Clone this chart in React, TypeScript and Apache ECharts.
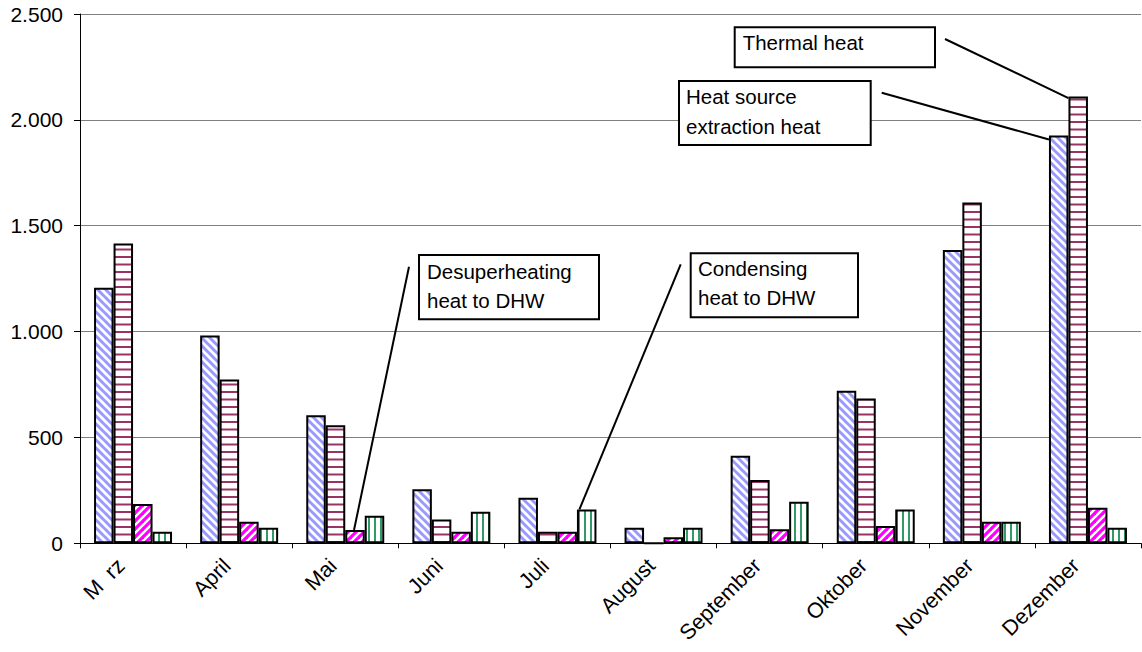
import React, { useEffect, useRef } from "react";
import * as echarts from "echarts";

const months = ["M  rz", "April", "Mai", "Juni", "Juli", "August", "September", "Oktober", "November", "Dezember"];
const heatSource = [1207, 982, 605, 255, 215, 74, 413, 720, 1385, 1926];
const thermal = [1416, 774, 558, 112, 55, 0, 299, 684, 1610, 2110];
const desuper = [186, 102, 63, 55, 55, 28, 66, 82, 102, 168];
const condensing = [55, 74, 130, 149, 160, 74, 196, 160, 102, 74];
const yTicks = [0, 500, 1000, 1500, 2000, 2500];
const yTickLabels = ["0", "500", "1.000", "1.500", "2.000", "2.500"];

const FONT = "'Liberation Sans', Arial, sans-serif";
const CAT_GAP = 0.265;

function makePattern(w: number, h: number, draw: (ctx: CanvasRenderingContext2D) => void) {
  const c = document.createElement("canvas");
  c.width = w;
  c.height = h;
  const ctx = c.getContext("2d")!;
  ctx.fillStyle = "#ffffff";
  ctx.fillRect(0, 0, w, h);
  draw(ctx);
  return { image: c.toDataURL(), repeat: "repeat", imageWidth: w, imageHeight: h } as any;
}

export default function App() {
  const ref = useRef<HTMLDivElement>(null);
  useEffect(() => {
    if (!ref.current) return;
    const chart = echarts.init(ref.current, undefined, { renderer: "svg" });

    const bluePat = makePattern(8, 8, (ctx) => {
      ctx.strokeStyle = "#9999ff";
      ctx.lineWidth = 3;
      for (const dx of [-8, 0, 8]) {
        ctx.beginPath();
        ctx.moveTo(dx - 1, -1);
        ctx.lineTo(dx + 9, 9);
        ctx.stroke();
      }
    });
    const magPat = makePattern(8, 8, (ctx) => {
      ctx.strokeStyle = "#ff00ff";
      ctx.lineWidth = 3.2;
      for (const dx of [-8, 0, 8]) {
        ctx.beginPath();
        ctx.moveTo(dx - 1, 9);
        ctx.lineTo(dx + 9, -1);
        ctx.stroke();
      }
    });
    const redPat = makePattern(4, 15, (ctx) => {
      ctx.fillStyle = "#993366";
      ctx.fillRect(0, 1, 4, 2);
      ctx.fillRect(0, 8.5, 4, 2);
    });
    const greenPat = makePattern(6, 4, (ctx) => {
      ctx.fillStyle = "#339966";
      ctx.fillRect(2, 0, 2, 4);
    });

    const mkSeries = (name: string, data: number[], color: any) => ({
      name,
      type: "bar",
      data,
      barGap: "0%",
      barCategoryGap: (CAT_GAP * 100).toFixed(1) + "%",
      itemStyle: { color, borderColor: "#000000", borderWidth: 2 },
      emphasis: { disabled: true },
    });

    const option: any = {
      animation: false,
      backgroundColor: "#ffffff",
      textStyle: { fontFamily: FONT },
      grid: { left: 80, top: 14, right: 1, bottom: 108.7, containLabel: false },
      xAxis: {
        type: "category",
        data: months,
        boundaryGap: true,
        axisLine: { show: true, lineStyle: { color: "#000000", width: 1 } },
        axisTick: { show: true, length: 5, lineStyle: { color: "#000000" } },
        axisLabel: {
          interval: 0,
          rotate: 45,
          margin: 7,
          padding: [0, 17, 0, 0],
          fontSize: 21.5,
          color: "#000000",
          fontFamily: FONT,
        },
        splitLine: { show: false },
      },
      yAxis: {
        type: "value",
        min: yTicks[0],
        max: yTicks[yTicks.length - 1],
        interval: yTicks[1] - yTicks[0],
        axisLine: { show: true, lineStyle: { color: "#000000", width: 1 } },
        axisTick: { show: true, length: 6, lineStyle: { color: "#000000" } },
        axisLabel: {
          margin: 17,
          fontSize: 21,
          color: "#000000",
          fontFamily: FONT,
          formatter: (v: number) => {
            const i = yTicks.indexOf(v);
            return i >= 0 ? yTickLabels[i] : String(v);
          },
        },
        splitLine: { show: true, lineStyle: { color: "#808080", width: 1 } },
      },
      series: [
        mkSeries("Heat source extraction heat", heatSource, bluePat),
        mkSeries("Thermal heat", thermal, redPat),
        mkSeries("Desuperheating heat to DHW", desuper, magPat),
        mkSeries("Condensing heat to DHW", condensing, greenPat),
      ],
    };
    chart.setOption(option);

    const px = (i: number, v: number) => chart.convertToPixel({ gridIndex: 0 } as any, [i, v]) as number[];
    const catW = px(1, 0)[0] - px(0, 0)[0];
    const groupW = catW * (1 - CAT_GAP);
    const barW = groupW / 4;
    const barLeft = (i: number, k: number) => px(i, 0)[0] - groupW / 2 + k * barW;
    const barTop = (i: number, v: number) => px(i, v)[1];

    const box = (x: number, y: number, w: number, h: number) => ({
      type: "rect",
      z: 100,
      shape: { x, y, width: w, height: h },
      style: { fill: "#ffffff", stroke: "#000000", lineWidth: 2 },
    });
    const txt = (x: number, y: number, text: string) => ({
      type: "text",
      z: 101,
      x,
      y,
      style: { text, fontSize: 20.5, fontFamily: FONT, fill: "#000000", align: "left", verticalAlign: "middle" },
    });
    const line = (x1: number, y1: number, x2: number, y2: number) => ({
      type: "line",
      z: 99,
      shape: { x1, y1, x2, y2 },
      style: { stroke: "#000000", lineWidth: 2 },
    });

    const dez = 9, mai = 2, juli = 4;
    const graphic = [
      line(945, 39, barLeft(dez, 1), barTop(dez, thermal[dez]) + 1.5),
      line(881.7, 92.7, barLeft(dez, 0), barTop(dez, heatSource[dez]) + 4),
      line(409, 266.7, barLeft(mai, 2) + barW * 0.45, barTop(mai, desuper[mai])),
      line(680.7, 264.3, barLeft(juli, 3) + 2.5, barTop(juli, condensing[juli])),
      box(734.7, 27.3, 200.3, 40),
      txt(742.7, 42.7, "Thermal heat"),
      box(679, 81, 191.7, 64),
      txt(686, 96.7, "Heat source"),
      txt(686, 126.7, "extraction heat"),
      box(419, 255, 180, 64.3),
      txt(427, 271.7, "Desuperheating"),
      txt(427, 300, "heat to DHW"),
      box(690.7, 253.3, 167.3, 64),
      txt(698, 268.3, "Condensing"),
      txt(698, 297, "heat to DHW"),
    ];
    chart.setOption({ graphic });

    return () => chart.dispose();
  }, []);

  return (
    <div
      ref={ref}
      style={{ position: "absolute", left: 0, top: 0, width: 1142, height: 652, background: "#ffffff" }}
    />
  );
}
